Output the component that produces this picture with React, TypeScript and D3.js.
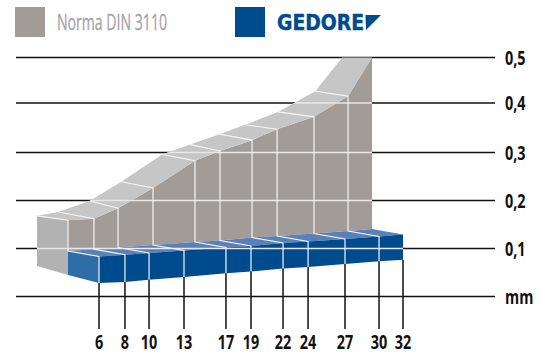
import React from "react";
import * as d3 from "d3";

const sizeLabels = ["6", "8", "10", "13", "17", "19", "22", "24", "27", "30", "32"];
// size positions along the (slightly irregular) printed millimetre axis
const sizeAxis = [6, 8.22, 10.28, 13.27, 16.86, 19, 21.74, 23.88, 27.04, 29.95, 32];
const dinFront = [0.159, 0.162, 0.184, 0.226, 0.283, 0.303, 0.325, 0.347, 0.372, 0.415, 0.5];
const dinBack = [0.168, 0.176, 0.199, 0.239, 0.296, 0.316, 0.337, 0.356, 0.382, 0.426, 0.5];
const dinBackAxis = [0.7, 2.5, 5.2, 7.9, 11.4, 13.8, 16.3, 18.5, 21.3, 24.5, 26.8];
const gedoreTop = [0.0833, 0.0871, 0.0906, 0.0958, 0.1021, 0.1052, 0.1115, 0.1146, 0.1198, 0.125, 0.1292];
const gedoreBottom = [0.0281, 0.0302, 0.035, 0.0406, 0.0483, 0.0523, 0.0581, 0.0615, 0.0677, 0.0733, 0.0767];
const yTicks = [0.5, 0.4, 0.3, 0.2, 0.1, 0];
const yLabels = ["0,5", "0,4", "0,3", "0,2", "0,1", "mm"];
const dinBackBottom = 0.0635;
const gedoreBackBottom = 0.0448;

const W = 542;
const H = 354;
const DX = -31; // depth offset of the extrusion
const DY = -5.5;

const x = d3.scaleLinear().domain([6, 32]).range([99, 403]);
const y = d3.scaleLinear().domain([0, 0.3, 0.4, 0.5]).range([296.5, 152.5, 103, 57.5]);
const poly = d3.line<[number, number]>();
const FONT = "'Open Sans', sans-serif";

function Narrow(props: { x: number; y: number; anchor?: string; children: React.ReactNode }) {
  return (
    <text
      transform={`translate(${props.x},${props.y}) scale(0.76,1)`}
      textAnchor={props.anchor ?? "start"}
      fontFamily={FONT}
      fontWeight={700}
      fontSize={19}
      fill="#111"
    >
      {props.children}
    </text>
  );
}

export default function App() {
  const n = sizeAxis.length;
  const fx = sizeAxis.map((s) => x(s));
  const gFrontTop = fx.map((v, i): [number, number] => [v + DX, y(dinFront[i])]);
  const gBackTop = dinBackAxis.map((a, i): [number, number] => [x(a), y(dinBack[i])]);
  const bTop = fx.map((v, i): [number, number] => [v, y(gedoreTop[i])]);
  const bBot = fx.map((v, i): [number, number] => [v, y(gedoreBottom[i])]);
  const bBack = bTop.map(([a, b]): [number, number] => [a + DX, b + DY]);

  const topFace = [...gBackTop, ...[...gFrontTop].reverse()];
  const grayFront = [...gFrontTop, ...[...bBack].reverse()];
  const sideFace: [number, number][] = [
    gBackTop[0],
    gFrontTop[0],
    [gFrontTop[0][0], y(gedoreBackBottom)],
    [gBackTop[0][0], y(dinBackBottom)],
  ];
  const blueTop = [...bBack, ...[...bTop].reverse()];
  const blueFront = [...bTop, ...[...bBot].reverse()];
  const blueSide: [number, number][] = [bBack[0], bTop[0], bBot[0], sideFace[2]];
  const silhouette = [topFace, grayFront, sideFace, blueTop, blueFront, blueSide];

  return (
    <svg
      width={W}
      height={H}
      viewBox={`0 0 ${W} ${H}`}
      style={{ position: "absolute", left: 0, top: 0, background: "#fff" }}
    >
      <defs>
        <clipPath id="shape">
          {silhouette.map((p, i) => (
            <path key={i} d={poly(p) + "Z"} />
          ))}
        </clipPath>
      </defs>

      {/* legend */}
      <rect x={15} y={7} width={30} height={30} fill="#a29c98" />
      <text
        x={57}
        y={30}
        fontFamily={FONT}
        fontSize={22}
        fill="#a4a4a4"
        stroke="#a4a4a4"
        strokeWidth={0.3}
        textLength={110}
        lengthAdjust="spacingAndGlyphs"
      >
        Norma DIN 3110
      </text>
      <rect x={235} y={7} width={30} height={30} fill="#004b8d" />
      <text
        x={277}
        y={30}
        fontFamily="'DejaVu Sans', sans-serif"
        fontWeight={700}
        fontSize={21}
        fill="#004b8d"
        stroke="#004b8d"
        strokeWidth={0.5}
        textLength={87}
        lengthAdjust="spacingAndGlyphs"
      >
        GEDORE
      </text>
      <polygon points="365.5,15 381,15 366,30" fill="#004b8d" />

      {/* grid */}
      {yTicks.map((t, i) => (
        <g key={t}>
          <line x1={16} x2={495} y1={y(t)} y2={y(t)} stroke="#111" strokeWidth={1.5} />
          <Narrow x={505} y={y(t) + 7}>
            {yLabels[i]}
          </Narrow>
        </g>
      ))}

      {/* DIN body */}
      <path d={poly(grayFront) + "Z"} fill="#a29c98" />
      <path d={poly(topFace) + "Z"} fill="#c6c6c6" />
      <path d={poly(sideFace) + "Z"} fill="#b2b2b2" />

      {/* GEDORE body */}
      <path d={poly(blueTop) + "Z"} fill="#5b80b8" />
      <path d={poly(blueSide) + "Z"} fill="#2e6ea8" />
      <path d={poly(blueFront) + "Z"} fill="#004b8d" />

      {/* white grid over the bodies */}
      <g clipPath="url(#shape)">
        {yTicks.slice(1, 5).map((t) => (
          <line key={t} x1={16} x2={495} y1={y(t)} y2={y(t)} stroke="#e8e8e8" strokeWidth={1.3} />
        ))}
      </g>

      {/* white section lines */}
      {fx.map((v, i) =>
        i === n - 1 ? null : (
          <path
            key={i}
            d={poly([gBackTop[i], gFrontTop[i], bBack[i], bTop[i], bBot[i]]) ?? ""}
            fill="none"
            stroke="#f4f4f4"
            strokeWidth={1.2}
          />
        )
      )}

      {/* size ticks */}
      {fx.map((v, i) => (
        <g key={sizeLabels[i]}>
          <line x1={v} x2={v} y1={bBot[i][1]} y2={329} stroke="#111" strokeWidth={1.5} />
          <Narrow x={v} y={349} anchor="middle">
            {sizeLabels[i]}
          </Narrow>
        </g>
      ))}
    </svg>
  );
}
